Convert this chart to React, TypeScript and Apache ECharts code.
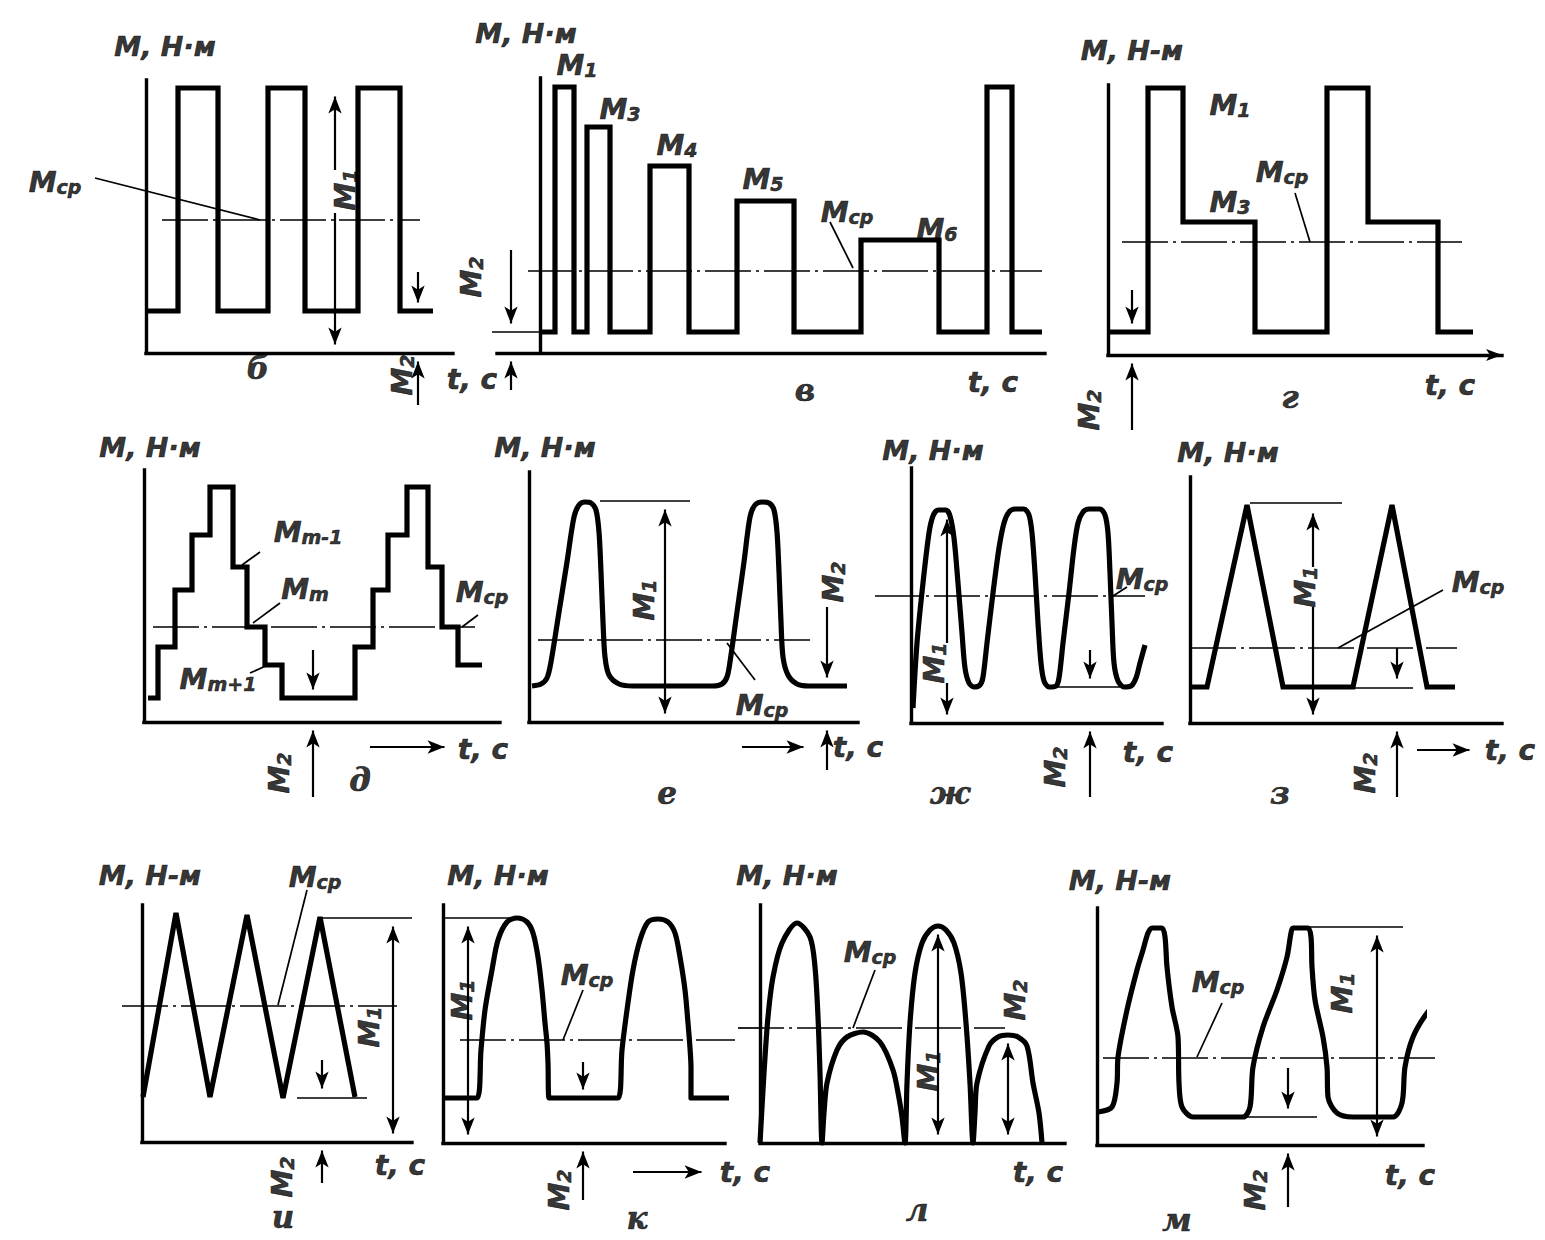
import React, { useEffect, useRef } from "react";
import * as echarts from "echarts";

type Pt = [number, number];
type VArrow = [number, number, number]; // t, from, tip
type HArrow = [number, number, number]; // tFrom, tTip, m
type Seg = [number, number, number, number]; // t1, m1, t2, m2
type Lbl = [number, number, string, string, number, string]; // t, m, main, sub, rotate, kind

// ---------- б ----------
const waveB: Pt[] = [[2,42],[32,42],[32,265],[72,265],[72,42],[122,42],[122,265],[159,265],[159,42],[212,42],[212,265],[254,265],[254,42],[287,42]];
const mcpB: [number, number, number] = [133, 16, 274];
const arrowsB: VArrow[] = [[189,183,265],[189,140,0],[272,81,42],[272,-52,0]];
const leadersB: Seg[] = [[-51,175,114,133]];
const labelsB: Lbl[] = [[19,307,"M, Н·м","",0,"a"],[-91,173,"M","ср",0,"m"],[197,163,"M","1",90,"m"],[254,-22,"M","2",90,"m"],[326,-24,"t, с","",0,"m"],[112,-15,"б","",0,"L"]];

// ---------- в ----------
const waveV: Pt[] = [[0,21],[15,21],[15,266],[34,266],[34,21],[47,21],[47,226],[70,226],[70,21],[110,21],[110,187],[149,187],[149,21],[197,21],[197,152],[254,152],[254,21],[321,21],[321,113],[399,113],[399,21],[447,21],[447,266],[472,266],[472,21],[502,21]];
const mcpV: [number, number, number] = [82, -12, 502];
const refsV: Seg[] = [[-48,21,0,21]];
const arrowsV: VArrow[] = [[-29,103,21],[-29,-37,0]];
const leadersV: Seg[] = [[290,131,313,85]];
const labelsV: Lbl[] = [[-14,320,"M, Н·м","",0,"a"],[37,290,"M","1",0,"m"],[80,246,"M","3",0,"m"],[137,210,"M","4",0,"m"],[223,176,"M","5",0,"m"],[307,143,"M","ср",0,"m"],[397,126,"M","6",0,"m"],[-71,76,"M","2",90,"m"],[453,-27,"t, с","",0,"m"],[265,-37,"в","",0,"L"]];

// ---------- г ----------
const waveG: Pt[] = [[0,23],[40,23],[40,267],[75,267],[75,133],[147,133],[147,23],[219,23],[219,267],[260,267],[260,133],[330,133],[330,23],[365,23]];
const mcpG: [number, number, number] = [113, 14, 354];
const arrowsG: VArrow[] = [[24,65,23],[24,-75,0]];
const leadersG: Seg[] = [[187,162,202,113]];
const labelsG: Lbl[] = [[24,305,"M, Н-м","",0,"a"],[122,252,"M","1",0,"m"],[122,155,"M","3",0,"m"],[174,185,"M","ср",0,"m"],[-21,-55,"M","2",90,"m"],[342,-28,"t, с","",0,"m"],[182,-42,"г","",0,"L"]];

// ---------- д ----------
const waveD: Pt[] = [[4,24],[14,24],[14,75],[31,75],[31,132],[48,132],[48,187],[66,187],[66,235],[89,235],[89,155],[103,155],[103,95],[121,95],[121,57],[138,57],[138,24],[211,24],[211,75],[229,75],[229,132],[244,132],[244,187],[263,187],[263,235],[284,235],[284,155],[298,155],[298,95],[314,95],[314,57],[338,57]];
const mcpD: [number, number, number] = [95, 9, 331];
const arrowsD: VArrow[] = [[169,72,24],[169,-75,0]];
const hArrowsD: HArrow[] = [[226,309,-25]];
const leadersD: Seg[] = [[116,170,98,157],[136,119,109,99],[106,49,124,57],[334,107,318,95]];
const labelsD: Lbl[] = [[6,275,"M, Н·м","",0,"a"],[164,192,"M","m-1",0,"m"],[161,135,"M","m",0,"m"],[74,45,"M","m+1",0,"m"],[338,132,"M","ср",0,"m"],[133,-51,"M","2",90,"m"],[339,-25,"t, с","",0,"m"],[216,-58,"д","",0,"L"]];

// ---------- е ----------
const waveE: Pt[] = [[3,36],[12,38],[18,44],[22,60],[30,110],[38,160],[45,205],[50,217],[56,220],[62,219],[67,212],[70,190],[72,150],[74,100],[76,65],[80,47],[90,38],[104,36],[184,36],[193,38],[198,45],[201,60],[208,110],[215,160],[221,205],[226,217],[233,220],[240,219],[245,212],[248,190],[250,150],[252,100],[254,65],[259,47],[268,38],[280,36],[318,36]];
const mcpE: [number, number, number] = [82, 9, 281];
const refsE: Seg[] = [[71,221,161,221]];
const arrowsE: VArrow[] = [[136,110,221],[136,110,0],[298,115,36],[298,-48,0]];
const hArrowsE: HArrow[] = [[213,283,-25]];
const leadersE: Seg[] = [[226,42,198,79]];
const labelsE: Lbl[] = [[16,275,"M, Н·м","",0,"a"],[113,122,"M","1",90,"m"],[233,19,"M","ср",0,"m"],[302,140,"M","2",90,"m"],[329,-23,"t, с","",0,"m"],[138,-71,"е","",0,"L"]];

// ---------- ж ----------
const waveZh: Pt[] = [[2,15],[6,80],[12,140],[18,190],[22,207],[27,213],[35,213],[39,207],[43,185],[47,140],[51,90],[54,55],[58,40],[63,36],[69,38],[72,46],[76,80],[82,130],[88,175],[93,200],[98,211],[104,214],[113,214],[118,208],[121,190],[124,150],[127,100],[130,60],[133,42],[138,36],[145,37],[148,45],[152,80],[158,130],[163,175],[167,200],[172,211],[178,214],[189,214],[194,208],[197,190],[199,150],[201,100],[203,60],[207,42],[213,36],[220,37],[225,45],[229,60],[234,78]];
const mcpZh: [number, number, number] = [127, -36, 234];
const refsZh: Seg[] = [[136,36,209,36]];
const arrowsZh: VArrow[] = [[36,80,212],[36,40,0],[179,73,36],[179,-74,0]];
const leadersZh: Seg[] = [[216,136,202,127]];
const labelsZh: Lbl[] = [[22,273,"M, Н·м","",0,"a"],[231,146,"M","ср",0,"m"],[21,60,"M","1",90,"m"],[142,-44,"M","2",90,"m"],[237,-27,"t, с","",0,"m"],[39,-70,"ж","",0,"L"]];

// ---------- з ----------
const waveZ: Pt[] = [[0,36],[17,36],[57,218],[93,36],[163,36],[202,218],[237,36],[265,36]];
const mcpZ: [number, number, number] = [75, 0, 267];
const refsZ: Seg[] = [[60,220,152,220],[93,35,223,35]];
const arrowsZ: VArrow[] = [[123,156,218],[123,116,0],[207,75,36],[207,-74,0]];
const hArrowsZ: HArrow[] = [[227,288,-27]];
const leadersZ: Seg[] = [[253,133,148,75]];
const labelsZ: Lbl[] = [[38,271,"M, Н·м","",0,"a"],[113,136,"M","1",90,"m"],[288,143,"M","ср",0,"m"],[173,-50,"M","2",90,"m"],[320,-25,"t, с","",0,"m"],[90,-70,"з","",0,"L"]];

// ---------- и ----------
const waveI: Pt[] = [[1,45],[34,229],[68,45],[105,227],[141,44],[178,225],[213,45]];
const mcpI: [number, number, number] = [136, -20, 255];
const refsI: Seg[] = [[178,224,270,224],[155,44,225,44]];
const arrowsI: VArrow[] = [[251,130,224],[251,130,0],[180,82,45],[180,-41,0]];
const leadersI: Seg[] = [[165,252,136,137]];
const labelsI: Lbl[] = [[8,267,"M, Н-м","",0,"a"],[173,267,"M","ср",0,"m"],[225,115,"M","1",90,"m"],[138,-35,"M","2",90,"m"],[258,-21,"t, с","",0,"m"],[141,-75,"и","",0,"L"]];

// ---------- к ----------
const waveK: Pt[] = [[0,45],[34,45],[38,93],[42,133],[49,173],[55,203],[64,221],[74,225],[84,221],[90,210],[95,186],[99,153],[102,120],[104,100],[105,80],[106,45],[175,45],[179,93],[184,133],[190,173],[197,203],[205,221],[215,224],[225,221],[232,210],[237,186],[242,153],[245,120],[247,95],[248,75],[248,45],[287,45]];
const mcpK: [number, number, number] = [103, 17, 292];
const refsK: Seg[] = [[2,225,77,225]];
const arrowsK: VArrow[] = [[25,130,225],[25,130,0],[140,81,45],[140,-57,0]];
const hArrowsK: HArrow[] = [[190,267,-29]];
const leadersK: Seg[] = [[140,153,120,103]];
const labelsK: Lbl[] = [[55,268,"M, Н·м","",0,"a"],[17,143,"M","1",90,"m"],[144,170,"M","ср",0,"m"],[114,-47,"M","2",90,"m"],[302,-27,"t, с","",0,"m"],[194,-75,"к","",0,"L"]];

// ---------- л ----------
const waveL: Pt[] = [[0,0],[4,70],[8,126],[13,166],[22,200],[37,220],[50,206],[55,176],[58,126],[60,70],[62,0],[64,30],[67,60],[77,93],[87,106],[103,111],[120,101],[133,73],[139,45],[142,26],[145,0],[147,60],[150,120],[155,170],[162,200],[170,213],[178,217],[186,213],[194,200],[201,170],[206,120],[210,60],[213,0],[215,30],[217,60],[229,97],[238,106],[248,108],[258,106],[267,97],[273,60],[279,30],[282,0]];
const mcpL: [number, number, number] = [115, -22, 245];
const arrowsL: VArrow[] = [[178,108,217],[178,108,0],[248,54,108],[248,54,0]];
const leadersL: Seg[] = [[115,173,93,115]];
const labelsL: Lbl[] = [[27,268,"M, Н·м","",0,"a"],[110,193,"M","ср",0,"m"],[166,72,"M","1",90,"m"],[253,143,"M","2",90,"m"],[278,-27,"t, с","",0,"m"],[157,-67,"л","",0,"L"]];

// ---------- м ----------
const waveM: Pt[] = [[1,33],[15,38],[20,62],[21,88],[30,135],[40,175],[46,195],[51,212],[55,217],[65,217],[68,208],[70,178],[75,138],[81,108],[82,62],[85,38],[96,28],[146,28],[153,38],[156,78],[166,118],[180,155],[190,188],[194,212],[196,217],[211,217],[214,208],[215,178],[218,145],[226,108],[230,78],[231,48],[240,32],[256,28],[296,28],[305,42],[308,78],[316,108],[330,132],[343,145]];
const mcpM: [number, number, number] = [87, 6, 338];
const refsM: Seg[] = [[211,218,306,218],[148,28,220,28]];
const arrowsM: VArrow[] = [[280,130,218],[280,130,0],[191,77,28],[191,-62,0]];
const leadersM: Seg[] = [[125,142,100,88]];
const labelsM: Lbl[] = [[23,265,"M, Н-м","",0,"a"],[121,165,"M","ср",0,"m"],[243,152,"M","1",90,"m"],[156,-45,"M","2",90,"m"],[313,-28,"t, с","",0,"m"],[80,-75,"м","",0,"L"]];

// ---------- layout (pixel frames of each small chart) ----------
interface PanelDef {
  x0: number; y0: number; xMin: number; xMax: number; yMax: number;
  arrowAxis?: boolean; smooth: number;
  wave: Pt[]; mcp: [number, number, number];
  refs: Seg[]; leaders: Seg[]; vArrows: VArrow[]; hArrows: HArrow[]; labels: Lbl[];
}

const panels: PanelDef[] = [
  { x0: 146, y0: 353, xMin: 0, xMax: 307, yMax: 273, smooth: 0, wave: waveB, mcp: mcpB, refs: [], leaders: leadersB, vArrows: arrowsB, hArrows: [], labels: labelsB },
  { x0: 540, y0: 353, xMin: -43, xMax: 505, yMax: 275, smooth: 0, wave: waveV, mcp: mcpV, refs: refsV, leaders: leadersV, vArrows: arrowsV, hArrows: [], labels: labelsV },
  { x0: 1108, y0: 355, xMin: 0, xMax: 394, yMax: 270, arrowAxis: true, smooth: 0, wave: waveG, mcp: mcpG, refs: [], leaders: leadersG, vArrows: arrowsG, hArrows: [], labels: labelsG },
  { x0: 144, y0: 722, xMin: 0, xMax: 356, yMax: 252, smooth: 0, wave: waveD, mcp: mcpD, refs: [], leaders: leadersD, vArrows: arrowsD, hArrows: hArrowsD, labels: labelsD },
  { x0: 529, y0: 722, xMin: 0, xMax: 329, yMax: 250, smooth: 0.3, wave: waveE, mcp: mcpE, refs: refsE, leaders: leadersE, vArrows: arrowsE, hArrows: hArrowsE, labels: labelsE },
  { x0: 911, y0: 723, xMin: 0, xMax: 251, yMax: 255, smooth: 0.3, wave: waveZh, mcp: mcpZh, refs: refsZh, leaders: leadersZh, vArrows: arrowsZh, hArrows: [], labels: labelsZh },
  { x0: 1190, y0: 723, xMin: 0, xMax: 312, yMax: 246, smooth: 0, wave: waveZ, mcp: mcpZ, refs: refsZ, leaders: leadersZ, vArrows: arrowsZ, hArrows: hArrowsZ, labels: labelsZ },
  { x0: 142, y0: 1142, xMin: 0, xMax: 270, yMax: 237, smooth: 0, wave: waveI, mcp: mcpI, refs: refsI, leaders: leadersI, vArrows: arrowsI, hArrows: [], labels: labelsI },
  { x0: 443, y0: 1143, xMin: 0, xMax: 282, yMax: 238, smooth: 0.3, wave: waveK, mcp: mcpK, refs: refsK, leaders: leadersK, vArrows: arrowsK, hArrows: hArrowsK, labels: labelsK },
  { x0: 760, y0: 1143, xMin: 0, xMax: 305, yMax: 238, smooth: 0.3, wave: waveL, mcp: mcpL, refs: [], leaders: leadersL, vArrows: arrowsL, hArrows: [], labels: labelsL },
  { x0: 1097, y0: 1145, xMin: 0, xMax: 326, yMax: 237, smooth: 0.3, wave: waveM, mcp: mcpM, refs: refsM, leaders: leadersM, vArrows: arrowsM, hArrows: [], labels: labelsM },
];

const INK = "#000000";
const SANS = "'DejaVu Sans', sans-serif";
const SERIF = "'DejaVu Serif', serif";
const HEAD = 17; // arrow head length
const PAD_L = 120; // overlay grid margins (same 1:1 scale as the panel)
const PAD_R = 120;
const PAD_B = 110;
const PAD_T = 80;

function buildOption() {
  const grid: any[] = [];
  const xAxis: any[] = [];
  const yAxis: any[] = [];
  const series: any[] = [];

  const richBase = { fontFamily: SANS, fontStyle: "italic", fontWeight: "bold", color: INK, textBorderColor: INK, textBorderWidth: 0.6 };
  const rich = {
    m: { ...richBase, fontSize: 28, lineHeight: 32, verticalAlign: "bottom" },
    s: { ...richBase, fontSize: 19, lineHeight: 16, verticalAlign: "bottom" },
    a: { ...richBase, fontSize: 27, lineHeight: 30 },
    L: { ...richBase, fontFamily: SERIF, fontSize: 31, lineHeight: 32 },
  };
  const hidden = { show: false, axisLine: { show: false }, axisTick: { show: false }, axisLabel: { show: false }, splitLine: { show: false } };

  panels.forEach((p, i) => {
    const gMain = 2 * i;
    const gOver = 2 * i + 1;
    // main grid: the drawn axes
    grid.push({ left: p.x0 + p.xMin, top: p.y0 - p.yMax, width: p.xMax - p.xMin, height: p.yMax, outerBoundsMode: "none", containLabel: false });
    // overlay grid: same scale, wider, for annotations that reach outside the axes
    const oxMin = p.xMin - PAD_L, oxMax = p.xMax + PAD_R, oyMin = -PAD_B, oyMax = p.yMax + PAD_T;
    grid.push({ left: p.x0 + oxMin, top: p.y0 - oyMax, width: oxMax - oxMin, height: oyMax - oyMin, outerBoundsMode: "none", containLabel: false });

    const axisLine = (arrow: boolean) => ({
      show: true,
      onZero: true,
      symbol: arrow ? ["none", "arrow"] : ["none", "none"],
      symbolSize: [9, 16],
      lineStyle: { color: INK, width: 3.4, cap: "square" },
    });
    xAxis.push({ gridIndex: gMain, type: "value", min: p.xMin, max: p.xMax, axisLine: axisLine(!!p.arrowAxis), axisTick: { show: false }, axisLabel: { show: false }, splitLine: { show: false } });
    yAxis.push({ gridIndex: gMain, type: "value", min: 0, max: p.yMax, axisLine: axisLine(false), axisTick: { show: false }, axisLabel: { show: false }, splitLine: { show: false } });
    xAxis.push({ gridIndex: gOver, type: "value", min: oxMin, max: oxMax, ...hidden });
    yAxis.push({ gridIndex: gOver, type: "value", min: oyMin, max: oyMax, ...hidden });

    const main = { xAxisIndex: gMain, yAxisIndex: gMain, silent: true, clip: false, animation: false };
    const over = { xAxisIndex: gOver, yAxisIndex: gOver, silent: true, clip: false, animation: false };

    // waveform
    series.push({
      ...main, type: "line", data: p.wave, symbol: "none", smooth: p.smooth || false, z: 4,
      lineStyle: { color: INK, width: 5.2, join: p.smooth ? "round" : "miter", cap: "butt" },
    });
    // mean torque line (dash-dot)
    series.push({
      ...over, type: "line", symbol: "none", z: 3,
      data: [[p.mcp[1], p.mcp[0]], [p.mcp[2], p.mcp[0]]],
      lineStyle: { color: INK, width: 1.7, type: [46, 5, 3, 5] },
    });
    // thin reference lines and leaders
    [...p.refs, ...p.leaders].forEach((s) => {
      series.push({
        ...over, type: "line", symbol: "none", z: 3,
        data: [[s[0], s[1]], [s[2], s[3]]],
        lineStyle: { color: INK, width: 1.7 },
      });
    });
    // vertical dimension arrows
    p.vArrows.forEach((a) => {
      const dir = a[2] > a[1] ? 1 : -1;
      series.push({
        ...over, type: "line", symbol: "none", showSymbol: true, z: 5,
        data: [
          { value: [a[0], a[1]], symbol: "none" },
          { value: [a[0], a[2] - (dir * HEAD) / 2], symbol: "arrow", symbolSize: [10, HEAD], symbolRotate: dir > 0 ? 0 : 180 },
        ],
        itemStyle: { color: INK },
        lineStyle: { color: INK, width: 2.2 },
      });
    });
    // horizontal time arrows
    p.hArrows.forEach((a) => {
      series.push({
        ...over, type: "line", symbol: "none", showSymbol: true, z: 5,
        data: [
          { value: [a[0], a[2]], symbol: "none" },
          { value: [a[1] - HEAD / 2, a[2]], symbol: "arrow", symbolSize: [10, HEAD], symbolRotate: -90 },
        ],
        itemStyle: { color: INK },
        lineStyle: { color: INK, width: 2.2 },
      });
    });
    // texts
    series.push({
      ...over, type: "scatter", symbol: "circle", symbolSize: 1, z: 6,
      itemStyle: { color: "rgba(0,0,0,0)" },
      data: p.labels.map((l) => {
        const fmt = l[5] === "L" ? `{L|${l[2]}}` : l[5] === "a" ? `{a|${l[2]}}` : `{m|${l[2]}}` + (l[3] ? `{s|${l[3]}}` : "");
        return {
          value: [l[0], l[1]],
          label: { show: true, position: "inside", formatter: fmt, rotate: l[4], rich, color: INK },
        };
      }),
    });
  });

  return { animation: false, backgroundColor: "#ffffff", grid, xAxis, yAxis, series };
}

export default function App() {
  const ref = useRef<HTMLDivElement>(null);
  useEffect(() => {
    document.body.style.margin = "0";
    const chart = echarts.init(ref.current!, undefined, { renderer: "svg" });
    chart.setOption(buildOption() as any);
    return () => chart.dispose();
  }, []);
  return <div ref={ref} style={{ width: 1545, height: 1240, background: "#ffffff" }} />;
}
